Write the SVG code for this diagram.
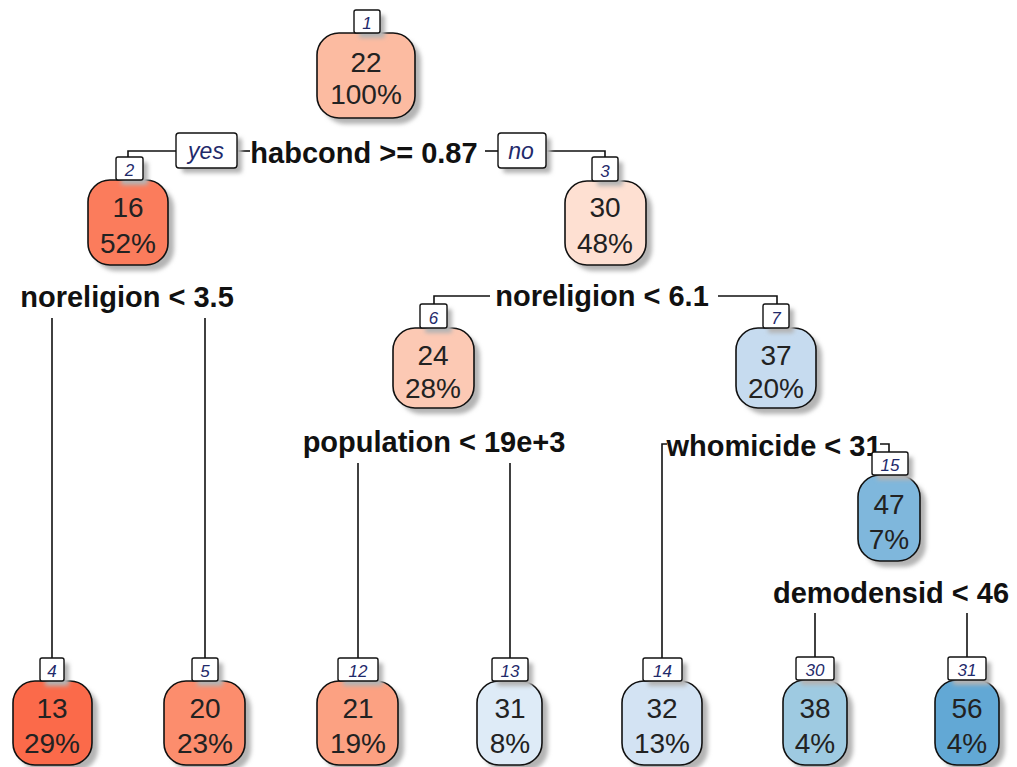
<svg xmlns="http://www.w3.org/2000/svg" width="1017" height="767" viewBox="0 0 1017 767">
<defs>
<filter id="blur" x="-20%" y="-20%" width="150%" height="150%"><feGaussianBlur stdDeviation="2"/></filter>
<style>
.bg{fill:#ffffff}
.sh{fill:#b4b4b4;filter:url(#blur)}
.body{stroke:#111;stroke-width:1.6}
.nb{fill:#fff;stroke:#111;stroke-width:1.4}
.num{font-family:"Liberation Sans",Arial,sans-serif;font-style:italic;font-size:17px;fill:#1f2a6b;text-anchor:middle}
.val{font-family:"Liberation Sans",Arial,sans-serif;font-size:28px;fill:#222;text-anchor:middle}
.split{font-family:"Liberation Sans",Arial,sans-serif;font-weight:bold;font-size:29px;fill:#111;text-anchor:middle}
.yn{font-family:"Liberation Sans",Arial,sans-serif;font-style:italic;font-size:23px;fill:#1f2a6b;text-anchor:middle}
.con{fill:none;stroke:#111;stroke-width:1.6}
</style>
</defs>
<rect class="bg" width="1017" height="767"/>

<g id="connectors">
<polyline class="con" points="176,151 128,151 128,157"/>
<line class="con" x1="237" y1="151" x2="250" y2="151"/>
<line class="con" x1="485" y1="151" x2="498" y2="151"/>
<polyline class="con" points="546,151 605,151 605,157"/>
<line class="con" x1="52" y1="318" x2="52" y2="658"/>
<line class="con" x1="205" y1="318" x2="205" y2="658"/>
<polyline class="con" points="490,296 434,296 434,304"/>
<polyline class="con" points="718,296 777,296 777,304"/>
<line class="con" x1="358" y1="463" x2="358" y2="658"/>
<line class="con" x1="510" y1="463" x2="510" y2="658"/>
<polyline class="con" points="667,444 662,444 662,658"/>
<polyline class="con" points="880,444 889,444 889,452"/>
<line class="con" x1="815" y1="613" x2="815" y2="657"/>
<line class="con" x1="967" y1="613" x2="967" y2="657"/>
</g>

<g id="labels">
<g id="yes"><rect x="182" y="138" width="60" height="35" rx="3" class="sh"/><rect x="176" y="133" width="61" height="35" rx="3" class="nb"/><text x="206" y="159" class="yn">yes</text></g>
<g id="no"><rect x="503" y="138" width="48" height="35" rx="3" class="sh"/><rect x="498" y="133" width="48" height="35" rx="3" class="nb"/><text x="521" y="159" class="yn">no</text></g>
<text id="split1" x="364" y="163" class="split">habcond &gt;= 0.87</text>
<text id="split2" x="127" y="307" class="split">noreligion &lt; 3.5</text>
<text id="split3" x="602" y="306" class="split">noreligion &lt; 6.1</text>
<text id="split6" x="434" y="452" class="split">population &lt; 19e+3</text>
<text id="split7" x="774" y="456" class="split">whomicide &lt; 31</text>
<text id="split15" x="891" y="603" class="split">demodensid &lt; 46</text>
</g>

<g id="node1">
<rect x="323" y="39" width="98" height="85" rx="22" class="sh"/>
<rect x="317" y="33" width="98" height="85" rx="22" class="body" fill="#fcbba1"/>
<rect x="359" y="15" width="26" height="23" rx="2" class="sh"/>
<rect x="354" y="10" width="26" height="23" rx="2" class="nb"/>
<text x="367" y="29" class="num">1</text>
<text x="366" y="72" class="val">22</text>
<text x="366" y="104" class="val">100%</text>
</g>

<g id="node2">
<rect x="94" y="186" width="80" height="85" rx="22" class="sh"/>
<rect x="88" y="180" width="80" height="85" rx="22" class="body" fill="#fb7c5c"/>
<rect x="121" y="162" width="27" height="23" rx="2" class="sh"/>
<rect x="116" y="157" width="27" height="23" rx="2" class="nb"/>
<text x="129.5" y="176" class="num">2</text>
<text x="128" y="217" class="val">16</text>
<text x="128" y="253" class="val">52%</text>
</g>

<g id="node3">
<rect x="571" y="187" width="81" height="84" rx="22" class="sh"/>
<rect x="565" y="181" width="81" height="84" rx="22" class="body" fill="#fee0d2"/>
<rect x="597" y="162" width="26" height="24" rx="2" class="sh"/>
<rect x="592" y="157" width="26" height="24" rx="2" class="nb"/>
<text x="605" y="177" class="num">3</text>
<text x="605" y="217" class="val">30</text>
<text x="605" y="253" class="val">48%</text>
</g>

<g id="node6">
<rect x="399" y="334" width="81" height="80" rx="22" class="sh"/>
<rect x="393" y="328" width="81" height="80" rx="22" class="body" fill="#fcc9b4"/>
<rect x="425" y="309" width="27" height="24" rx="2" class="sh"/>
<rect x="420" y="304" width="27" height="24" rx="2" class="nb"/>
<text x="433.5" y="324" class="num">6</text>
<text x="433" y="365" class="val">24</text>
<text x="433" y="398" class="val">28%</text>
</g>

<g id="node7">
<rect x="742" y="334" width="80" height="80" rx="22" class="sh"/>
<rect x="736" y="328" width="80" height="80" rx="22" class="body" fill="#c6dbef"/>
<rect x="768" y="309" width="26" height="24" rx="2" class="sh"/>
<rect x="763" y="304" width="26" height="24" rx="2" class="nb"/>
<text x="776" y="324" class="num">7</text>
<text x="776" y="365" class="val">37</text>
<text x="776" y="398" class="val">20%</text>
</g>

<g id="node15">
<rect x="864" y="481" width="62" height="86" rx="22" class="sh"/>
<rect x="858" y="475" width="62" height="86" rx="22" class="body" fill="#7fb7dc"/>
<rect x="877" y="457" width="36" height="23" rx="2" class="sh"/>
<rect x="872" y="452" width="36" height="23" rx="2" class="nb"/>
<text x="890" y="471" class="num">15</text>
<text x="889" y="514" class="val">47</text>
<text x="889" y="549" class="val">7%</text>
</g>

<g id="node4">
<rect x="19" y="687" width="79" height="84" rx="22" class="sh"/>
<rect x="13" y="681" width="79" height="84" rx="22" class="body" fill="#fb6a4a"/>
<rect x="45" y="663" width="24" height="23" rx="2" class="sh"/>
<rect x="40" y="658" width="24" height="23" rx="2" class="nb"/>
<text x="52" y="677" class="num">4</text>
<text x="52" y="718" class="val">13</text>
<text x="52" y="753" class="val">29%</text>
</g>

<g id="node5">
<rect x="170" y="687" width="81" height="84" rx="22" class="sh"/>
<rect x="164" y="681" width="81" height="84" rx="22" class="body" fill="#fc8d6d"/>
<rect x="197" y="663" width="26" height="23" rx="2" class="sh"/>
<rect x="192" y="658" width="26" height="23" rx="2" class="nb"/>
<text x="205" y="677" class="num">5</text>
<text x="205" y="718" class="val">20</text>
<text x="205" y="753" class="val">23%</text>
</g>

<g id="node12">
<rect x="323" y="687" width="81" height="84" rx="22" class="sh"/>
<rect x="317" y="681" width="81" height="84" rx="22" class="body" fill="#fca182"/>
<rect x="343" y="663" width="40" height="23" rx="2" class="sh"/>
<rect x="338" y="658" width="40" height="23" rx="2" class="nb"/>
<text x="358" y="677" class="num">12</text>
<text x="358" y="718" class="val">21</text>
<text x="358" y="753" class="val">19%</text>
</g>

<g id="node13">
<rect x="483" y="687" width="65" height="84" rx="22" class="sh"/>
<rect x="477" y="681" width="65" height="84" rx="22" class="body" fill="#deebf7"/>
<rect x="497" y="663" width="36" height="23" rx="2" class="sh"/>
<rect x="492" y="658" width="36" height="23" rx="2" class="nb"/>
<text x="510" y="677" class="num">13</text>
<text x="510" y="718" class="val">31</text>
<text x="510" y="753" class="val">8%</text>
</g>

<g id="node14">
<rect x="628" y="687" width="80" height="84" rx="22" class="sh"/>
<rect x="622" y="681" width="80" height="84" rx="22" class="body" fill="#d3e3f3"/>
<rect x="648" y="663" width="39" height="23" rx="2" class="sh"/>
<rect x="643" y="658" width="39" height="23" rx="2" class="nb"/>
<text x="662.5" y="677" class="num">14</text>
<text x="662" y="718" class="val">32</text>
<text x="662" y="753" class="val">13%</text>
</g>

<g id="node30">
<rect x="789" y="686" width="64" height="85" rx="22" class="sh"/>
<rect x="783" y="680" width="64" height="85" rx="22" class="body" fill="#9ecae1"/>
<rect x="801" y="662" width="38" height="23" rx="2" class="sh"/>
<rect x="796" y="657" width="38" height="23" rx="2" class="nb"/>
<text x="815" y="676" class="num">30</text>
<text x="815" y="718" class="val">38</text>
<text x="815" y="753" class="val">4%</text>
</g>

<g id="node31">
<rect x="941" y="686" width="64" height="85" rx="22" class="sh"/>
<rect x="935" y="680" width="64" height="85" rx="22" class="body" fill="#62a8d5"/>
<rect x="953" y="662" width="38" height="23" rx="2" class="sh"/>
<rect x="948" y="657" width="38" height="23" rx="2" class="nb"/>
<text x="967" y="676" class="num">31</text>
<text x="967" y="718" class="val">56</text>
<text x="967" y="753" class="val">4%</text>
</g>
</svg>
